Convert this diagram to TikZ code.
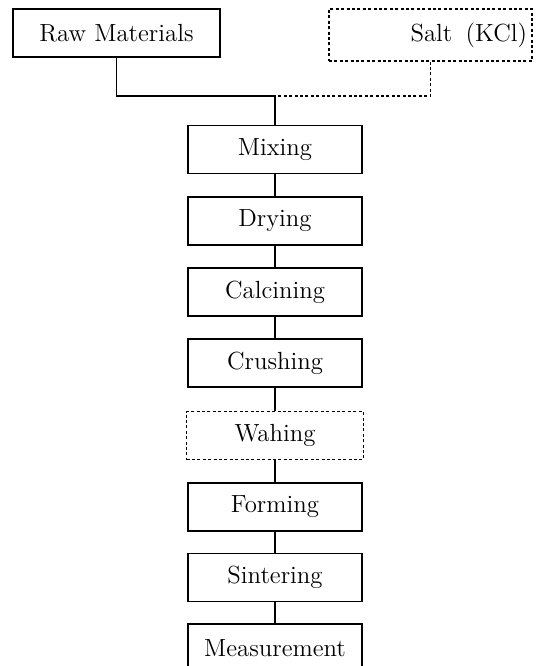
\documentclass[tikz,border=0pt]{standalone}
\begin{document}
\begin{tikzpicture}[x=0.5pt,y=-0.5pt,
  every node/.style={font=\fontsize{12.4}{14}\selectfont},
  procbox/.style={draw, line width=0.6pt, minimum width=87pt, minimum height=24pt, inner sep=0pt},
  dashbox/.style={procbox, dash pattern=on 1.5pt off 1.2pt},
  conn/.style={line width=0.6pt},
  dconn/.style={line width=0.7pt, dash pattern=on 1.5pt off 1.2pt}]
\useasboundingbox (0,0) rectangle (547,666);
\node[procbox, minimum width=103.5pt] (raw) at (116.5,33) {Raw Materials};
\node[dashbox, minimum width=101.5pt, minimum height=26pt, text width=96.5pt, align=right, inner xsep=2.5pt] (salt) at (430.5,35) {Salt\hspace{2.5pt} (KCl)};
\coordinate (j) at (275,96);
\node[procbox] (mix) at (275,149.5) {Mixing};
\node[procbox] (dry) at (275,221) {Drying};
\node[procbox] (cal) at (275,292) {Calcining};
\node[procbox] (cru) at (275,363) {Crushing};
\node[dashbox, minimum width=88.5pt] (wash) at (275,435.5) {Wahing};
\node[procbox] (form) at (275,507) {Forming};
\node[procbox] (sint) at (275,577.5) {Sintering};
\node[procbox] (meas) at (275,648) {Measurement};
\draw[conn] (raw.south) |- (j);
\draw[dconn] (salt.south) |- (j);
\draw[conn] (j) -- (mix.north);
\draw[conn] (mix) -- (dry);
\draw[conn] (dry) -- (cal);
\draw[conn] (cal) -- (cru);
\draw[conn] (cru) -- (wash);
\draw[conn] (wash) -- (form);
\draw[conn] (form) -- (sint);
\draw[conn] (sint) -- (meas);
\end{tikzpicture}
\end{document}
